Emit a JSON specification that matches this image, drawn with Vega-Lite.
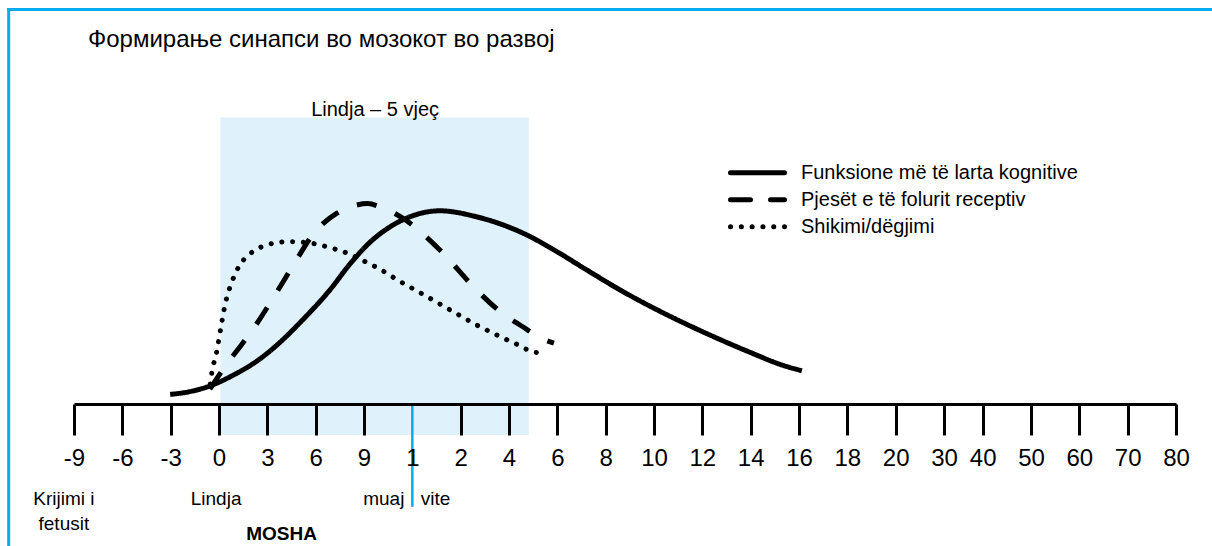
{
  "$schema": "https://vega.github.io/schema/vega-lite/v6.json",
  "width": 1102,
  "height": 404,
  "autosize": {"type": "none"},
  "padding": {"left": 74, "top": 0, "right": 36, "bottom": 142},
  "background": "white",
  "config": {
    "view": {"stroke": null},
    "font": "Liberation Sans, Arial, sans-serif"
  },
  "title": {
    "text": "Формирање синапси во мозокот во развој",
    "anchor": "start",
    "frame": "group",
    "orient": "top",
    "offset": 0,
    "dx": 14,
    "dy": 71.3,
    "baseline": "alphabetic",
    "font": "Liberation Sans, Arial, sans-serif",
    "fontSize": 24,
    "fontWeight": "normal",
    "color": "black"
  },
  "resolve": {"axis": {"x": "independent", "y": "independent"}},
  "datasets": {
    "curves": [
      {"series": "Funksione më të larta kognitive", "pos": 1.99, "val": 2.4},
      {"series": "Funksione më të larta kognitive", "pos": 2.40, "val": 3.1},
      {"series": "Funksione më të larta kognitive", "pos": 2.81, "val": 4.5},
      {"series": "Funksione më të larta kognitive", "pos": 3.30, "val": 7.25},
      {"series": "Funksione më të larta kognitive", "pos": 3.85, "val": 11.3},
      {"series": "Funksione më të larta kognitive", "pos": 4.26, "val": 15.4},
      {"series": "Funksione më të larta kognitive", "pos": 4.68, "val": 20.4},
      {"series": "Funksione më të larta kognitive", "pos": 5.30, "val": 28.6},
      {"series": "Funksione më të larta kognitive", "pos": 5.71, "val": 35.0},
      {"series": "Funksione më të larta kognitive", "pos": 6.12, "val": 40.4},
      {"series": "Funksione më të larta kognitive", "pos": 6.54, "val": 44.3},
      {"series": "Funksione më të larta kognitive", "pos": 6.95, "val": 46.8},
      {"series": "Funksione më të larta kognitive", "pos": 7.57, "val": 48.3},
      {"series": "Funksione më të larta kognitive", "pos": 8.33, "val": 46.8},
      {"series": "Funksione më të larta kognitive", "pos": 9.37, "val": 42.25},
      {"series": "Funksione më të larta kognitive", "pos": 9.92, "val": 38.6},
      {"series": "Funksione më të larta kognitive", "pos": 10.61, "val": 33.5},
      {"series": "Funksione më të larta kognitive", "pos": 11.30, "val": 28.5},
      {"series": "Funksione më të larta kognitive", "pos": 11.99, "val": 24},
      {"series": "Funksione më të larta kognitive", "pos": 12.68, "val": 19.9},
      {"series": "Funksione më të larta kognitive", "pos": 13.37, "val": 16.1},
      {"series": "Funksione më të larta kognitive", "pos": 14.05, "val": 12.6},
      {"series": "Funksione më të larta kognitive", "pos": 14.61, "val": 9.9},
      {"series": "Funksione më të larta kognitive", "pos": 15.06, "val": 8.3},
      {"series": "Pjesët e të folurit receptiv", "pos": 2.81, "val": 3.7},
      {"series": "Pjesët e të folurit receptiv", "pos": 3.12, "val": 9.3},
      {"series": "Pjesët e të folurit receptiv", "pos": 3.37, "val": 13.3},
      {"series": "Pjesët e të folurit receptiv", "pos": 3.64, "val": 17.6},
      {"series": "Pjesët e të folurit receptiv", "pos": 3.81, "val": 20.6},
      {"series": "Pjesët e të folurit receptiv", "pos": 4.12, "val": 26.5},
      {"series": "Pjesët e të folurit receptiv", "pos": 4.54, "val": 34.75},
      {"series": "Pjesët e të folurit receptiv", "pos": 4.95, "val": 42.5},
      {"series": "Pjesët e të folurit receptiv", "pos": 5.44, "val": 47.7},
      {"series": "Pjesët e të folurit receptiv", "pos": 5.85, "val": 49.75},
      {"series": "Pjesët e të folurit receptiv", "pos": 6.08, "val": 50.1},
      {"series": "Pjesët e të folurit receptiv", "pos": 6.33, "val": 49.3},
      {"series": "Pjesët e të folurit receptiv", "pos": 6.81, "val": 46.4},
      {"series": "Pjesët e të folurit receptiv", "pos": 7.57, "val": 38.5},
      {"series": "Pjesët e të folurit receptiv", "pos": 8.33, "val": 28.5},
      {"series": "Pjesët e të folurit receptiv", "pos": 8.88, "val": 22.5},
      {"series": "Pjesët e të folurit receptiv", "pos": 9.26, "val": 19.5},
      {"series": "Pjesët e të folurit receptiv", "pos": 9.71, "val": 16.2},
      {"series": "Pjesët e të folurit receptiv", "pos": 9.93, "val": 15.2},
      {"series": "Shikimi/dëgjimi", "pos": 2.82, "val": 5},
      {"series": "Shikimi/dëgjimi", "pos": 2.85, "val": 7.7},
      {"series": "Shikimi/dëgjimi", "pos": 2.95, "val": 12.9},
      {"series": "Shikimi/dëgjimi", "pos": 3.06, "val": 20.6},
      {"series": "Shikimi/dëgjimi", "pos": 3.14, "val": 25.6},
      {"series": "Shikimi/dëgjimi", "pos": 3.26, "val": 30.3},
      {"series": "Shikimi/dëgjimi", "pos": 3.43, "val": 34.75},
      {"series": "Shikimi/dëgjimi", "pos": 3.59, "val": 37},
      {"series": "Shikimi/dëgjimi", "pos": 3.78, "val": 38.7},
      {"series": "Shikimi/dëgjimi", "pos": 3.99, "val": 39.75},
      {"series": "Shikimi/dëgjimi", "pos": 4.23, "val": 40.4},
      {"series": "Shikimi/dëgjimi", "pos": 4.45, "val": 40.6},
      {"series": "Shikimi/dëgjimi", "pos": 4.68, "val": 40.5},
      {"series": "Shikimi/dëgjimi", "pos": 4.92, "val": 40.2},
      {"series": "Shikimi/dëgjimi", "pos": 5.14, "val": 39.6},
      {"series": "Shikimi/dëgjimi", "pos": 5.35, "val": 38.9},
      {"series": "Shikimi/dëgjimi", "pos": 5.57, "val": 38.1},
      {"series": "Shikimi/dëgjimi", "pos": 5.99, "val": 35.8},
      {"series": "Shikimi/dëgjimi", "pos": 6.33, "val": 33.7},
      {"series": "Shikimi/dëgjimi", "pos": 6.73, "val": 30.75},
      {"series": "Shikimi/dëgjimi", "pos": 7.12, "val": 28.1},
      {"series": "Shikimi/dëgjimi", "pos": 7.54, "val": 25.2},
      {"series": "Shikimi/dëgjimi", "pos": 7.93, "val": 22.5},
      {"series": "Shikimi/dëgjimi", "pos": 8.33, "val": 19.75},
      {"series": "Shikimi/dëgjimi", "pos": 8.75, "val": 17.25},
      {"series": "Shikimi/dëgjimi", "pos": 9.15, "val": 15},
      {"series": "Shikimi/dëgjimi", "pos": 9.57, "val": 12.9},
      {"series": "Shikimi/dëgjimi", "pos": 9.71, "val": 12.9}
    ],
    "notes": [
      {"text": "Krijimi i\nfetusit", "pos": -0.21, "val": -25.25},
      {"text": "Lindja", "pos": 2.94, "val": -25.25},
      {"text": "muaj", "pos": 6.41, "val": -25.25},
      {"text": "vite", "pos": 7.48, "val": -25.25}
    ]
  },
  "layer": [
    {
      "data": {"values": [{"period": "Lindja – 5 vjeç", "start": 3.03, "end": 9.41}]},
      "mark": {"type": "rect", "color": "#dff2fc"},
      "encoding": {
        "x": {
          "field": "start",
          "type": "quantitative",
          "scale": {"domain": [0, 22.8], "nice": false, "zero": false},
          "axis": {
            "values": [0, 1, 2, 3, 4, 5, 6, 7, 8, 9, 10, 11, 12, 13, 14, 15, 16, 17, 18, 18.8, 19.8, 20.8, 21.8, 22.8],
            "labelExpr": "['-9','-6','-3','0','3','6','9','1','2','4','6','8','10','12','14','16','18','20','30','40','50','60','70','80'][round(datum.value)]",
            "title": "MOSHA",
            "titleFont": "Liberation Sans, Arial, sans-serif",
            "titleFontSize": 19,
            "titleFontWeight": "bold",
            "titleColor": "black",
            "titleX": 207,
            "titleY": 135.3,
            "titleAlign": "center",
            "titleBaseline": "alphabetic",
            "grid": false,
            "zindex": 1,
            "domainColor": "black",
            "domainWidth": 3,
            "tickSize": 31,
            "tickWidth": 3,
            "tickColor": {"condition": {"test": "datum.value === 7", "value": "transparent"}, "value": "black"},
            "labelFont": "Liberation Sans, Arial, sans-serif",
            "labelFontSize": 24,
            "labelColor": "black",
            "labelPadding": 11,
            "labelFlush": false,
            "labelOverlap": false,
            "labelBound": false
          }
        },
        "x2": {"field": "end"},
        "y": {"datum": 71.6, "type": "quantitative", "scale": {"domain": [0, 101], "nice": false, "zero": false}, "axis": null},
        "y2": {"datum": -7.75}
      }
    },
    {
      "data": {"values": [{}]},
      "mark": {"type": "rule", "color": "#00aeef", "strokeWidth": 3, "strokeCap": "square"},
      "encoding": {
        "x": {"datum": -1.351, "type": "quantitative", "axis": null},
        "x2": {"datum": 23.566},
        "y": {"datum": 98.625, "type": "quantitative", "axis": null}
      }
    },
    {
      "data": {"values": [{}]},
      "mark": {"type": "rule", "color": "#00aeef", "strokeWidth": 3, "strokeCap": "square"},
      "encoding": {
        "x": {"datum": -1.351, "type": "quantitative", "axis": null},
        "y": {"datum": 98.625, "type": "quantitative", "axis": null},
        "y2": {"datum": -36}
      }
    },
    {
      "data": {"values": [{}]},
      "mark": {"type": "rule", "color": "#00aeef", "strokeWidth": 2.5},
      "encoding": {
        "x": {"datum": 7, "type": "quantitative", "axis": null},
        "y": {"datum": 0, "type": "quantitative", "axis": null},
        "y2": {"datum": -25.7}
      }
    },
    {
      "data": {"name": "curves"},
      "transform": [{"filter": "datum.series === 'Funksione më të larta kognitive'"}],
      "mark": {"type": "line", "interpolate": "monotone", "strokeWidth": 5, "strokeCap": "butt", "color": "black"},
      "encoding": {
        "x": {"field": "pos", "type": "quantitative", "axis": null},
        "y": {"field": "val", "type": "quantitative", "axis": null},
        "strokeDash": {
          "field": "series",
          "type": "nominal",
          "scale": {
            "domain": ["Funksione më të larta kognitive", "Pjesët e të folurit receptiv", "Shikimi/dëgjimi"],
            "range": [[1, 0], [20, 20], [0.1, 10.7]]
          },
          "legend": {
            "orient": "none",
            "legendX": 654,
            "legendY": 161.7,
            "title": null,
            "padding": 0,
            "symbolType": "stroke",
            "symbolSize": 2916,
            "symbolStrokeWidth": 5,
            "symbolStrokeColor": "black",
            "labelFont": "Liberation Sans, Arial, sans-serif",
            "labelFontSize": 20,
            "labelColor": "black",
            "labelLimit": 500,
            "labelOffset": 14,
            "clipHeight": 22,
            "rowPadding": 5,
            "encode": {"symbols": {"update": {"strokeCap": {"value": "round"}}}}
          }
        }
      }
    },
    {
      "data": {"name": "curves"},
      "transform": [{"filter": "datum.series === 'Pjesët e të folurit receptiv'"}],
      "mark": {"type": "line", "interpolate": "monotone", "strokeWidth": 5, "strokeCap": "butt", "color": "black"},
      "encoding": {
        "x": {"field": "pos", "type": "quantitative", "axis": null},
        "y": {"field": "val", "type": "quantitative", "axis": null},
        "strokeDash": {"field": "series", "type": "nominal", "legend": null}
      }
    },
    {
      "data": {"name": "curves"},
      "transform": [{"filter": "datum.series === 'Shikimi/dëgjimi'"}],
      "mark": {"type": "line", "interpolate": "monotone", "strokeWidth": 5, "strokeCap": "round", "color": "black"},
      "encoding": {
        "x": {"field": "pos", "type": "quantitative", "axis": null},
        "y": {"field": "val", "type": "quantitative", "axis": null},
        "strokeDash": {"field": "series", "type": "nominal", "legend": null}
      }
    },
    {
      "data": {"name": "notes"},
      "mark": {"type": "text", "font": "Liberation Sans, Arial, sans-serif", "fontSize": 19, "align": "center", "baseline": "alphabetic", "lineBreak": "\n", "lineHeight": 25, "color": "black"},
      "encoding": {
        "x": {"field": "pos", "type": "quantitative", "axis": null},
        "y": {"field": "val", "type": "quantitative", "axis": null},
        "text": {"field": "text"}
      }
    },
    {
      "data": {"values": [{"text": "Lindja – 5 vjeç", "pos": 6.23, "val": 71.9}]},
      "mark": {"type": "text", "font": "Liberation Sans, Arial, sans-serif", "fontSize": 20, "align": "center", "baseline": "alphabetic", "color": "black"},
      "encoding": {
        "x": {"field": "pos", "type": "quantitative", "axis": null},
        "y": {"field": "val", "type": "quantitative", "axis": null},
        "text": {"field": "text"}
      }
    }
  ]
}
